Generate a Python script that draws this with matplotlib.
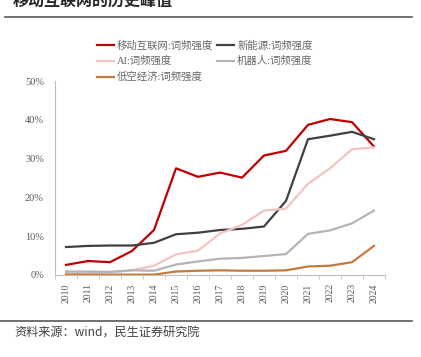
import numpy as np
import matplotlib.pyplot as plt

years = [str(y) for y in range(2010, 2025)]
mobile = [2.6, 3.6, 3.3, 6.2, 11.6, 27.5, 25.3, 26.4, 25.1, 30.8, 32.0, 38.7, 40.2, 39.4, 33.1]
new_energy = [7.2, 7.5, 7.6, 7.6, 8.3, 10.5, 10.9, 11.6, 11.9, 12.5, 19.1, 35.0, 35.9, 36.9, 35.0]
ai = [0.5, 0.5, 0.7, 1.2, 2.4, 5.3, 6.3, 10.7, 12.9, 16.6, 17.1, 23.5, 27.5, 32.4, 32.9]
robot = [0.9, 0.9, 0.8, 1.2, 1.1, 2.7, 3.5, 4.2, 4.4, 4.9, 5.4, 10.6, 11.5, 13.3, 16.6]
low_alt = [0.1, 0.1, 0.1, 0.1, 0.1, 0.9, 1.1, 1.2, 1.1, 1.1, 1.2, 2.2, 2.4, 3.3, 7.5]

labels = ['移动互联网:词频强度', '新能源:词频强度', 'AI:词频强度', '机器人:词频强度', '低空经济:词频强度']
colors = ['#C00000', '#404040', '#F2C4C0', '#B4B4B4', '#C47A3E']
fam = ['Liberation Serif', 'Noto Sans CJK SC']

fig = plt.figure(figsize=(4.21, 3.57), dpi=100)
ax = fig.add_axes([55/421, 1-275/357, 330/421, 194/357])

x = np.arange(len(years))
series = [mobile, new_energy, ai, robot, low_alt]
lines = []
for s, c in zip(series, colors):
    ln, = ax.plot(x, s, color=c, lw=1.6)
    lines.append(ln)

ax.set_xlim(-0.5, len(years) - 0.5)
ax.set_ylim(0, 50)
ax.set_yticks(range(0, 51, 10))
ax.set_yticklabels([f'{v}%' for v in range(0, 51, 10)], family=fam, fontsize=7.5, color='#595959')
ax.tick_params(axis='y', length=0, pad=8)
ax.set_xticks(x)
ax.set_xticklabels(years, rotation=90, family=fam, fontsize=7, color='#595959')
ax.tick_params(axis='x', length=0, pad=6)
ax.set_xticks(np.arange(-0.5, len(years), 1), minor=True)
ax.tick_params(axis='x', which='minor', length=3, color='#BFBFBF')
for sp in ['top', 'right']:
    ax.spines[sp].set_visible(False)
for sp in ['left', 'bottom']:
    ax.spines[sp].set_color('#BFBFBF')
    ax.spines[sp].set_linewidth(0.8)

# legend fills column by column
order = [0, 2, 4, 1, 3]
leg = fig.legend([lines[i] for i in order], [labels[i] for i in order],
                 loc='upper left', bbox_to_anchor=(92/421, 1-35/357), ncol=2, frameon=False,
                 prop={'family': fam, 'size': 7.5}, handlelength=1.6, handletextpad=0.3,
                 columnspacing=0.4, labelspacing=0.55, borderpad=0)
for t in leg.get_texts():
    t.set_color('#666666')

fig.text(13/421, 1-1/357, '移动互联网的历史峰值', family=['Noto Sans CJK SC'], fontsize=11.5,
         fontweight='bold', color='#262626', va='center', ha='left')
fig.add_artist(plt.Line2D([5/421, 412/421], [1-17/357, 1-17/357], color='#595959', lw=1.2))
fig.add_artist(plt.Line2D([0, 412/421], [1-321/357, 1-321/357], color='#595959', lw=1.2))
fig.text(14/421, 1-333/357, '资料来源：wind，民生证券研究院', family=['Noto Sans CJK SC'], fontsize=8.7,
         color='#404040', va='center', ha='left')

fig.savefig('out.png', dpi=100)
